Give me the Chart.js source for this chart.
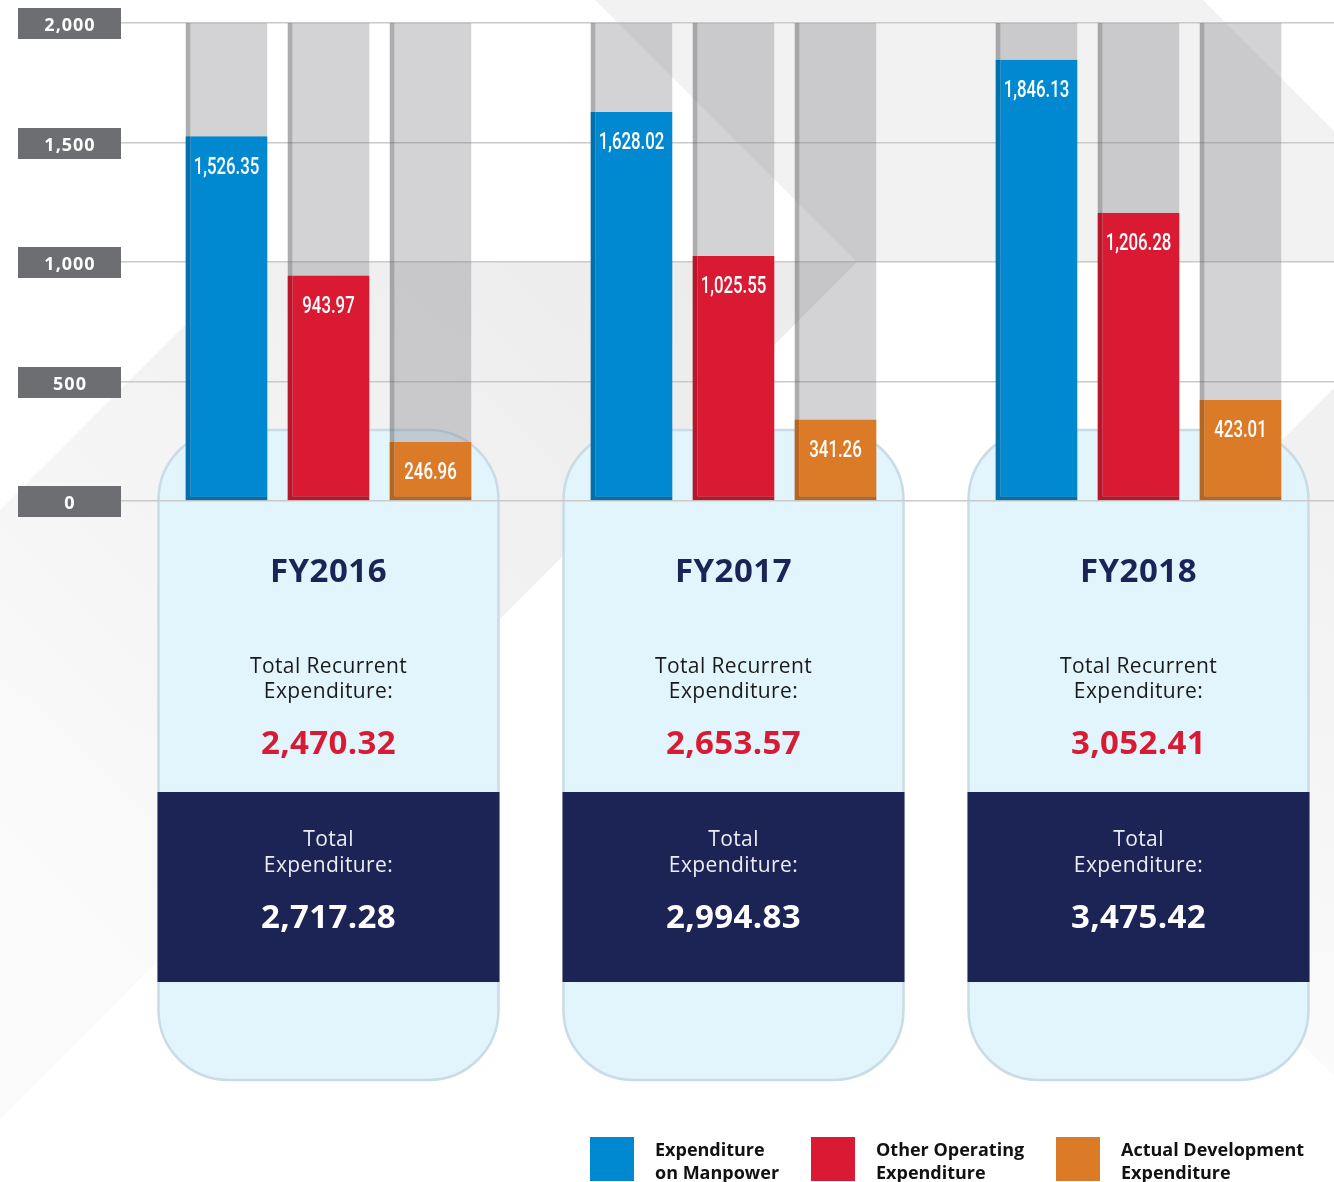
<!DOCTYPE html>
<html>
<head>
<meta charset="utf-8">
<title>Expenditure FY2016 - FY2018</title>
<script src="https://cdn.jsdelivr.net/npm/chart.js@4.4.1/dist/chart.umd.min.js"></script>
<style>
  html, body { margin: 0; padding: 0; background: #fff; overflow: hidden; }
  #wrap { position: relative; width: 1334px; height: 1182px; overflow: hidden; }
  #chart { position: absolute; left: 0; top: 0; }
</style>
</head>
<body>
<div id="wrap"><canvas id="chart" width="1341" height="1182"></canvas></div>
<script>
const categories = ["FY2016", "FY2017", "FY2018"];
const manpower = [1526.35, 1628.02, 1846.13];
const otherOperating = [943.97, 1025.55, 1206.28];
const development = [246.96, 341.26, 423.01];
const trackTop = [2000, 2000, 2000];
const recurrentTotals = [2470.32, 2653.57, 3052.41];
const totalExpenditure = [2717.28, 2994.83, 3475.42];
const yTicks = [0, 500, 1000, 1500, 2000];
const seriesNames = [["Expenditure", "on Manpower"], ["Other Operating", "Expenditure"], ["Actual Development", "Expenditure"]];
const seriesColors = ["#0089d1", "#da1a33", "#db7b28"];
const seriesEdges = ["#0071ae", "#b8172b", "#b8651f"];

const fmt = v => v.toLocaleString("en-US", { minimumFractionDigits: 2, maximumFractionDigits: 2 });

function poly(ctx, pts, fill) {
    ctx.beginPath();
    pts.forEach(([px, py], i) => i ? ctx.lineTo(px, py) : ctx.moveTo(px, py));
    ctx.closePath();
    ctx.fillStyle = fill;
    ctx.fill();
}

function roundBox(ctx, l, t, r, b, rad) {
    ctx.beginPath();
    ctx.moveTo(l + rad, t);
    ctx.lineTo(r - rad, t);
    ctx.arcTo(r, t, r, t + rad, rad);
    ctx.lineTo(r, b - rad);
    ctx.arcTo(r, b, r - rad, b, rad);
    ctx.lineTo(l + rad, b);
    ctx.arcTo(l, b, l, b - rad, rad);
    ctx.lineTo(l, t + rad);
    ctx.arcTo(l, t, l + rad, t, rad);
    ctx.closePath();
}

function spaced(ctx, px) {
    if ("letterSpacing" in ctx) ctx.letterSpacing = px + "px";
}

const scene = {
    id: "scene",
    beforeDraw(chart) {
        const ctx = chart.ctx;
        const x = chart.scales.x;
        const y = chart.scales.y;
        ctx.save();
        ctx.fillStyle = "#fff";
        ctx.fillRect(0, 0, chart.width, chart.height);

        // background chevrons
        poly(ctx, [[595, 0], [1203, 0], [1334, 131], [1334, 262], [857, 262]], "#f2f2f2");
        let g = ctx.createLinearGradient(700, 300, 60, 960);
        g.addColorStop(0, "#ececec");
        g.addColorStop(1, "#fbfbfb");
        poly(ctx, [[248, 262], [857, 262], [0, 1119], [0, 510]], g);
        g = ctx.createLinearGradient(1334, 500, 1100, 1100);
        g.addColorStop(0, "#f1f1f1");
        g.addColorStop(1, "#fcfcfc");
        poly(ctx, [[1334, 388], [990, 732], [1334, 1076]], g);

        // cards
        categories.forEach((c, i) => {
            const cx = x.getPixelForValue(i);
            const l = cx - 170, r = cx + 170;
            roundBox(ctx, l, 430, r, 1080, 70);
            ctx.fillStyle = "#e2f4fc";
            ctx.fill();
            ctx.lineWidth = 2.5;
            ctx.strokeStyle = "#c9dce6";
            ctx.stroke();
            ctx.fillStyle = "#1c2456";
            ctx.fillRect(l - 1, 792, 342, 190);

            ctx.textAlign = "center";
            ctx.textBaseline = "alphabetic";
            ctx.fillStyle = "#1c2457";
            ctx.font = "bold 33px 'Open Sans'";
            spaced(ctx, 0.5);
            ctx.fillText(c, cx, 581.5);
            ctx.fillStyle = "#1a1a1a";
            ctx.font = "21px 'Open Sans'";
            spaced(ctx, 0.4);
            ctx.fillText("Total Recurrent", cx, 672.5);
            ctx.fillText("Expenditure:", cx, 698);
            ctx.fillStyle = "#d91a35";
            ctx.font = "bold 33px 'Open Sans'";
            spaced(ctx, 0.4);
            ctx.fillText(fmt(recurrentTotals[i]), cx, 753.5);
            ctx.fillStyle = "#eceef4";
            ctx.font = "21px 'Open Sans'";
            ctx.fillText("Total", cx, 846);
            ctx.fillText("Expenditure:", cx, 871.5);
            ctx.fillStyle = "#fff";
            ctx.font = "bold 33px 'Open Sans'";
            ctx.fillText(fmt(totalExpenditure[i]), cx, 927.5);
        });

        // tick boxes
        ctx.font = "bold 18px 'Open Sans'";
        spaced(ctx, 1);
        ctx.textAlign = "center";
        y.ticks.forEach((t, i) => {
            const py = y.getPixelForTick(i);
            ctx.fillStyle = "#6d6e71";
            ctx.fillRect(18, Math.round(py) - 15, 103, 31);
            ctx.fillStyle = "#fff";
            ctx.fillText(t.value.toLocaleString("en-US"), 70, py + 8.2);
        });
        spaced(ctx, 0);
        ctx.restore();
    },
    afterDatasetsDraw(chart) {
        const ctx = chart.ctx;
        ctx.save();
        ctx.fillStyle = "#fff";
        ctx.textAlign = "center";
        ctx.textBaseline = "alphabetic";
        ctx.font = "500 24px Roboto";
        for (let d = 0; d < 3; d++) {
            const meta = chart.getDatasetMeta(d);
            meta.data.forEach((bar, i) => {
                const v = chart.data.datasets[d].data[i];
                ctx.save();
                ctx.translate(bar.x, bar.y + 37.5);
                ctx.scale(0.7, 1);
                ctx.fillText(fmt(v), 0, 0);
                ctx.restore();
            });
        }
        ctx.restore();
    },
    afterDraw(chart) {
        const ctx = chart.ctx;
        const boxX = [590, 811, 1056];
        ctx.save();
        ctx.textAlign = "left";
        ctx.textBaseline = "alphabetic";
        ctx.font = "bold 18px 'Open Sans'";
        seriesNames.forEach((lines, i) => {
            ctx.fillStyle = seriesColors[i];
            ctx.fillRect(boxX[i], 1137, 44, 44);
            ctx.fillStyle = "#111";
            ctx.fillText(lines[0], boxX[i] + 65, 1156);
            ctx.fillText(lines[1], boxX[i] + 65, 1178.5);
        });
        ctx.restore();
    }
};

const bars = [manpower, otherOperating, development].map((data, i) => ({
    label: seriesNames[i].join(" "),
    data: data,
    stack: "s" + i,
    backgroundColor: seriesColors[i],
    borderColor: seriesEdges[i],
    borderWidth: { left: 5, bottom: 4, top: 0, right: 0 },
    borderSkipped: false
}));

const tracks = [0, 1, 2].map(i => ({
    label: "track" + i,
    data: trackTop,
    stack: "s" + i,
    backgroundColor: "rgba(120, 122, 126, 0.33)",
    borderColor: "rgba(90, 92, 96, 0.5)",
    borderWidth: { left: 5, bottom: 0, top: 0, right: 0 },
    borderSkipped: false
}));

new Chart(document.getElementById("chart"), {
    type: "bar",
    data: {
        labels: categories,
        datasets: bars.concat(tracks)
    },
    options: {
        responsive: false,
        animation: false,
        categoryPercentage: 0.7556,
        barPercentage: 0.804,
        layout: { padding: { top: 23, bottom: 681, left: 0, right: 0 } },
        plugins: {
            legend: { display: false },
            tooltip: { enabled: false }
        },
        scales: {
            x: {
                display: false,
                stacked: true
            },
            y: {
                stacked: false,
                min: 0,
                max: 2000,
                afterBuildTicks: scale => { scale.ticks = yTicks.map(v => ({ value: v })); },
                afterFit: scale => { scale.width = 126; },
                border: { display: false },
                grid: { color: "#c9c9c9", lineWidth: 1.5, drawTicks: true, tickLength: 5 },
                ticks: { display: false }
            }
        }
    },
    plugins: [scene]
});
</script>
</body>
</html>
